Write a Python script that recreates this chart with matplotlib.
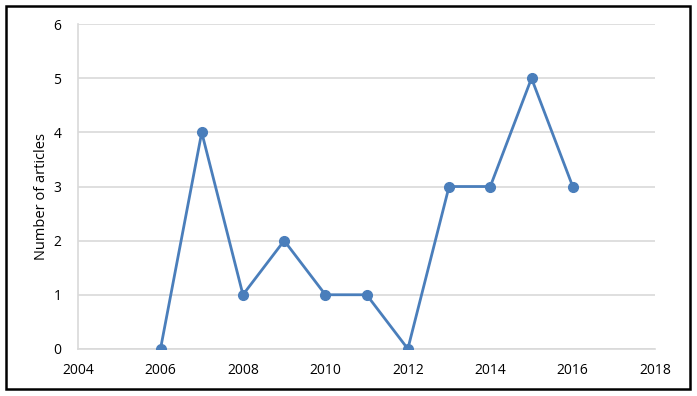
import matplotlib.pyplot as plt
from matplotlib.patches import Rectangle

years = [2006, 2007, 2008, 2009, 2010, 2011, 2012, 2013, 2014, 2015, 2016]
articles = [0, 4, 1, 2, 1, 1, 0, 3, 3, 5, 3]
x_ticks = [2004, 2006, 2008, 2010, 2012, 2014, 2016, 2018]
y_ticks = [0, 1, 2, 3, 4, 5, 6]

plt.rcParams['font.family'] = ['Open Sans', 'DejaVu Sans']

fig = plt.figure(figsize=(6.97, 3.96), dpi=100)
ax = fig.add_axes([0.112, 0.119, 0.828, 0.82])

ax.plot(years, articles, color='#4a7ebb', linewidth=2, marker='o', markersize=7, zorder=3)

ax.set_xlim(2004, 2018)
ax.set_ylim(0, 6)
ax.set_xticks(x_ticks)
ax.set_yticks(y_ticks)
ax.tick_params(length=0, labelsize=10)
ax.tick_params(axis='x', pad=10)
ax.tick_params(axis='y', pad=12)
ax.grid(axis='y', color='#d9d9d9', linewidth=1.2)
ax.set_axisbelow(True)
for s in ['top', 'right']:
    ax.spines[s].set_visible(False)
for s in ['left', 'bottom']:
    ax.spines[s].set_color('#d9d9d9')
    ax.spines[s].set_linewidth(1.2)
ax.set_ylabel('Number of articles', fontsize=10.5)
ax.yaxis.set_label_coords(-0.05, 0.47)

# frame around the whole chart
fig.patches.append(Rectangle((0.008, 0.018), 0.982, 0.968, transform=fig.transFigure,
                             fill=False, edgecolor='black', linewidth=1.8))

fig.savefig('out.png', dpi=100)
